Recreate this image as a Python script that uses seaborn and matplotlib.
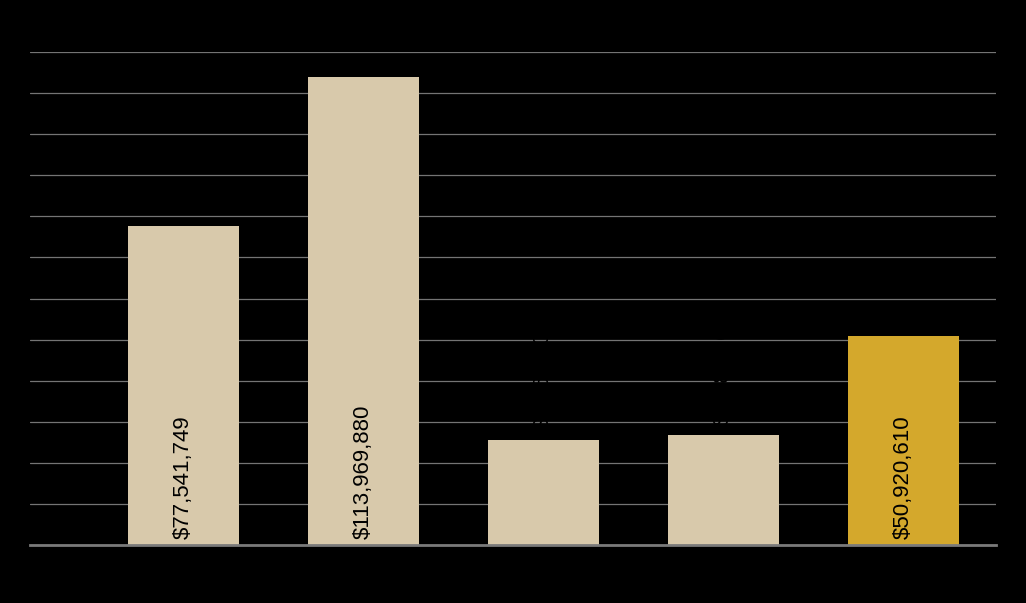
import matplotlib
matplotlib.use("Agg")
import matplotlib.pyplot as plt
import seaborn as sns
import pandas as pd

# Data (category names are drawn in black on black in the reference, so unreadable)
categories = ["Bar 1", "Bar 2", "Bar 3", "Bar 4", "Bar 5"]
values = [77541749, 113969880, 25600000, 26800000, 50920610]
value_labels = ["$77,541,749", "$113,969,880", "$25,600,000", "$26,800,000", "$50,920,610"]
bar_colors = ["#D8C9AB", "#D8C9AB", "#D8C9AB", "#D8C9AB", "#D4A82C"]
label_inside = [True, True, False, False, True]

df = pd.DataFrame({"category": categories, "value": values})

sns.set_style("dark")
plt.rcParams["font.family"] = ["Liberation Sans", "DejaVu Sans"]

fig = plt.figure(figsize=(10.26, 6.03), dpi=100, facecolor="black")
ax = fig.add_axes([30 / 1026, 58 / 603, 966 / 1026, 493 / 603])
ax.set_facecolor("black")

sns.barplot(data=df, x="category", y="value", hue="category", palette=bar_colors,
            legend=False, width=0.617, saturation=1, linewidth=0, ax=ax)

ax.set_xlim(-0.853, 4.514)
ax.set_ylim(0, 120000000)
ax.set_yticks(range(0, 120000001, 10000000))
ax.yaxis.grid(True, color="#747474", linewidth=0.9)
ax.xaxis.grid(False)
ax.set_axisbelow(True)
for side in ["top", "right", "left"]:
    ax.spines[side].set_visible(False)
ax.spines["bottom"].set_color("#7a7a7a")
ax.spines["bottom"].set_linewidth(2)
ax.tick_params(axis="both", colors="black", length=0, labelcolor="black")
ax.set_xlabel("")
ax.set_ylabel("")

# value labels
for i, (v, lab, inside) in enumerate(zip(values, value_labels, label_inside)):
    if inside:
        ax.annotate(lab, (i, 0), xytext=(0, 4), textcoords="offset points",
                    rotation=90, ha="center", va="bottom", fontsize=16, color="black")
    else:
        ax.annotate(lab, (i, v), xytext=(0, 7), textcoords="offset points",
                    rotation=90, ha="center", va="bottom", fontsize=16, color="black")

fig.savefig("out.png", dpi=100, facecolor="black")
